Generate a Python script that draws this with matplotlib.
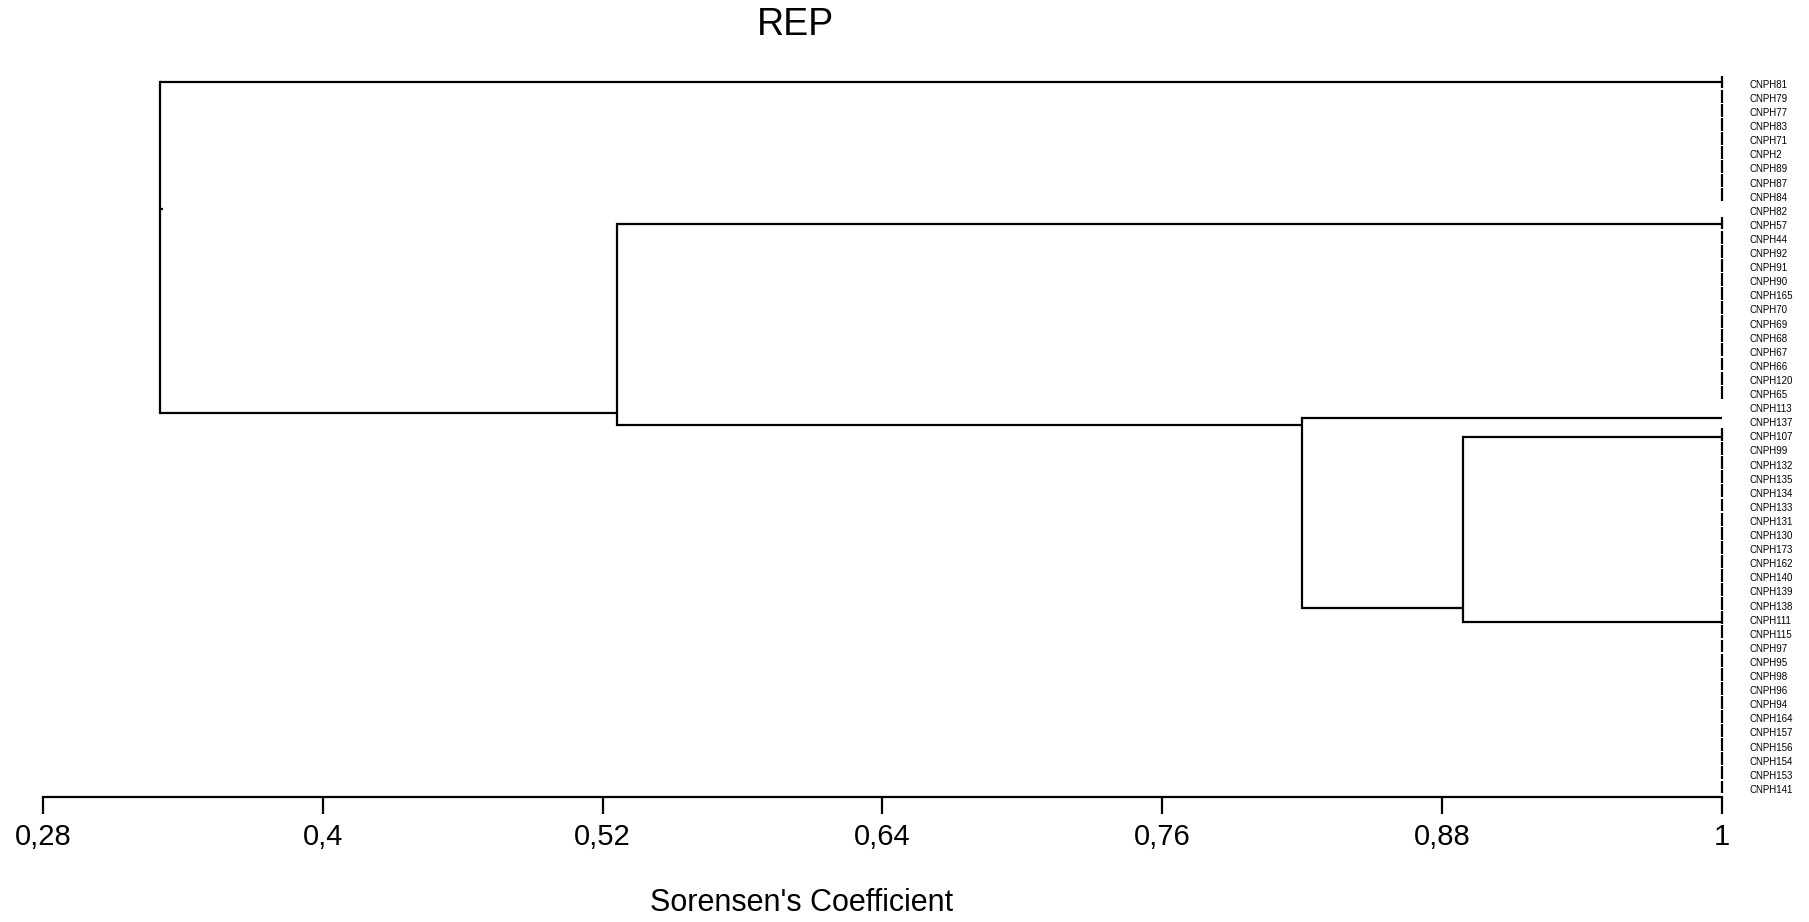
"""
Dendrogram of REP profiles (Sorensen similarity)
"""

import matplotlib
matplotlib.use("Agg")
import matplotlib.pyplot as plt

plt.rcParams['font.family'] = ['Liberation Sans', 'DejaVu Sans']

# leaves, top to bottom
leaf_labels = [
    "CNPH81", "CNPH79", "CNPH77", "CNPH83", "CNPH71", "CNPH2", "CNPH89", "CNPH87", "CNPH84", "CNPH82",
    "CNPH57", "CNPH44", "CNPH92", "CNPH91", "CNPH90", "CNPH165", "CNPH70", "CNPH69", "CNPH68", "CNPH67",
    "CNPH66", "CNPH120", "CNPH65", "CNPH113", "CNPH137",
    "CNPH107", "CNPH99", "CNPH132", "CNPH135", "CNPH134", "CNPH133", "CNPH131", "CNPH130", "CNPH173",
    "CNPH162", "CNPH140", "CNPH139", "CNPH138",
    "CNPH111", "CNPH115", "CNPH97", "CNPH95", "CNPH98", "CNPH96", "CNPH94", "CNPH164", "CNPH157",
    "CNPH156", "CNPH154", "CNPH153", "CNPH141",
]

# groups of identical profiles (similarity 1): first / last leaf index
group_first = [0, 10, 25, 38]
group_last = [8, 22, 37, 50]

# branches: horizontal line from parent node level to own level, at a row
branch_names = ["A", "B", "CNPH137", "D", "E", "DE", "CDE", "BCDE", "CNPH82"]
branch_parent = ["root", "BCDE", "CDE", "DE", "DE", "CDE", "BCDE", "root", "root"]
branch_sim = [1.0, 1.0, 1.0, 1.0, 1.0, 0.889, 0.82, 0.526, 0.3315]
branch_row = [0.0, 10.07, 23.8, 25.2, 38.3, 37.3, 24.3, 23.5, 9.0]

# internal nodes
node_names = ["root", "BCDE", "CDE", "DE"]
node_sim = [0.33, 0.526, 0.82, 0.889]

x_ticks = [0.28, 0.4, 0.52, 0.64, 0.76, 0.88, 1.0]
x_tick_labels = ["0,28", "0,4", "0,52", "0,64", "0,76", "0,88", "1"]


def main():
    W, H = 1809, 922
    fig = plt.figure(figsize=(W / 100, H / 100), dpi=100)

    # layout in pixels
    x0, x1 = 43, 1722
    row0_px, row_step = 82, 14.1
    axis_px = 797
    top_row = -0.5
    bottom_row = (axis_px - row0_px) / row_step
    top_px = row0_px + top_row * row_step
    ax = fig.add_axes([x0 / W, 1 - axis_px / H, (x1 - x0) / W, (axis_px - top_px) / H])
    ax.set_xlim(0.28, 1.0)
    ax.set_ylim(bottom_row, top_row)

    lw = 1.6
    level = dict(zip(node_names, node_sim))

    # horizontal branches
    for name, parent, sim, row in zip(branch_names, branch_parent, branch_sim, branch_row):
        ax.plot([level[parent], sim], [row, row], color="black", lw=lw,
                solid_capstyle="butt", clip_on=False)

    # vertical connectors of internal nodes
    for name, sim in zip(node_names, node_sim):
        rows = [r for p, r in zip(branch_parent, branch_row) if p == name]
        ax.plot([sim, sim], [min(rows), max(rows)], color="black", lw=lw,
                solid_capstyle="projecting", clip_on=False)

    # brackets of identical profiles at similarity 1 (one short segment per leaf)
    for first, last in zip(group_first, group_last):
        for i in range(first, last + 1):
            ax.plot([1.0, 1.0], [i - 0.46, i + 0.46], color="black", lw=lw,
                    solid_capstyle="butt", clip_on=False)

    # leaf labels
    label_x = 1.0 + (1750 - x1) / (x1 - x0) * 0.72
    for i, lab in enumerate(leaf_labels):
        ax.text(label_x, i + 0.2, lab, fontsize=7, ha="left", va="center", clip_on=False)

    for side in ["left", "right", "top"]:
        ax.spines[side].set_visible(False)
    ax.spines["bottom"].set_linewidth(lw)
    ax.spines["bottom"].set_capstyle("projecting")
    ax.set_yticks([])
    ax.set_xticks(x_ticks)
    ax.set_xticklabels(x_tick_labels, fontsize=21)
    ax.tick_params(axis="x", direction="out", length=12, width=lw, pad=7)

    fig.text(796 / W, 1 - 25 / H, "REP", fontsize=27, ha="center", va="center")
    fig.text(802 / W, 1 - 903 / H, "Sorensen's Coefficient", fontsize=22, ha="center", va="center")

    fig.savefig("out.png", dpi=100)


if __name__ == "__main__":
    main()
